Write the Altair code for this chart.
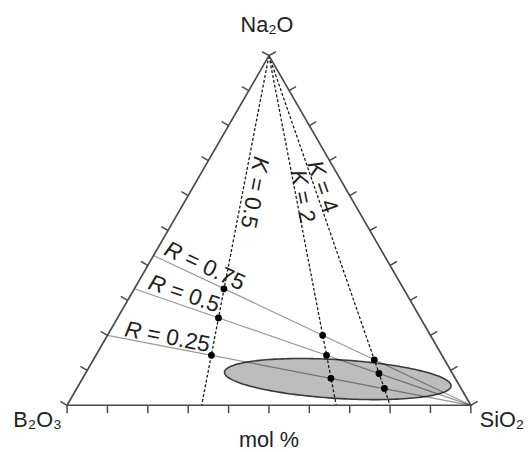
import math
import numpy as np
import pandas as pd
import altair as alt

# ---------------- data ----------------
corner_labels = ["Na₂O", "B₂O₃", "SiO₂"]
axis_title = "mol %"

K_values = [0.5, 2, 4]          # K = SiO2 / B2O3
R_values = [0.25, 0.5, 0.75]    # R = Na2O / B2O3

# compositions of the marked glasses (mol %)
pt_na2o = [14.3, 25.0, 33.3, 7.7, 14.3, 20.0, 4.8, 9.1, 13.0]
pt_b2o3 = [57.1, 50.0, 44.4, 30.8, 28.6, 26.7, 19.0, 18.2, 17.4]
pt_sio2 = [28.6, 25.0, 22.2, 61.5, 57.1, 53.3, 76.2, 72.7, 69.6]

tick_fracs = [0.0, 0.1, 0.2, 0.3, 0.4, 0.5, 0.6, 0.7, 0.8, 0.9, 1.0]

# glass-forming region (ellipse): centre composition (mol %), semi-axes (mol % of edge), tilt (deg)
ell_center_na2o = 7.5
ell_center_sio2 = 63.3
ell_semi_major = 28.1
ell_semi_minor = 4.8
ell_tilt = -3.5

# label placement along each guide line (annotation layout)
k_label_pos = [0.615, 0.594, 0.618]   # Na2O fraction of label centre on each K line
k_label_off = [11.5, 6.3, 7.5]        # px, perpendicular
r_label_pos = [0.160, 0.137, 0.145]   # fraction along each R line from the B2O3-Na2O edge
r_label_off = [9.6, 11.5, 12.2]

# ---------------- geometry ----------------
S3 = math.sqrt(3) / 2
W = 410
H = 355
PXU = W  # pixels per data unit
FS = 23


def tern(na, si):
    """ternary fractions -> cartesian data coordinates"""
    return si + na / 2.0, na * S3


# triangle outline
tri = []
for i, (na, si) in enumerate([(0, 0), (0, 1), (1, 0), (0, 0)]):
    x, y = tern(na, si)
    tri.append({"x": x, "y": y, "o": i})
tri = pd.DataFrame(tri)

# ticks, perpendicular to each edge, pointing outward
L = 8.0 / PXU
ticks = []
for f in tick_fracs:
    x, y = tern(0, f)  # bottom edge
    ticks.append({"x": x, "y": y, "x2": x, "y2": y - L})
    x, y = tern(f, 0)  # left edge
    ticks.append({"x": x, "y": y, "x2": x - L * S3, "y2": y + L * 0.5})
    x, y = tern(f, 1 - f)  # right edge
    ticks.append({"x": x, "y": y, "x2": x + L * S3, "y2": y + L * 0.5})
ticks = pd.DataFrame(ticks)

# K lines: apex to base
apx, apy = tern(1, 0)
klines = []
for k in K_values:
    bx, by = tern(0, k / (1 + k))
    klines.append({"x": apx, "y": apy, "x2": bx, "y2": by})
klines = pd.DataFrame(klines)

# R lines: B2O3-Na2O edge to SiO2 corner
sx, sy = tern(0, 1)
rlines = []
for r in R_values:
    lx, ly = tern(r / (1 + r), 0)
    rlines.append({"x": lx, "y": ly, "x2": sx, "y2": sy})
rlines = pd.DataFrame(rlines)

# points
pts = pd.DataFrame({"na": pt_na2o, "b": pt_b2o3, "si": pt_sio2})
pts["x"] = pts["si"] / 100 + pts["na"] / 200
pts["y"] = pts["na"] / 100 * S3

# ellipse
ecx, ecy = tern(ell_center_na2o / 100, ell_center_sio2 / 100)
A = ell_semi_major / 100
B = ell_semi_minor / 100
ph = math.radians(ell_tilt)
t = np.linspace(0, 2 * np.pi, 181)
ell_line = pd.DataFrame({
    "x": ecx + A * np.cos(t) * math.cos(ph) - B * np.sin(t) * math.sin(ph),
    "y": ecy + A * np.cos(t) * math.sin(ph) + B * np.sin(t) * math.cos(ph),
    "o": np.arange(len(t)),
})
xe = math.sqrt(A ** 2 * math.cos(ph) ** 2 + B ** 2 * math.sin(ph) ** 2)
u = np.linspace(np.pi, 0, 200)
X = xe * np.cos(u)
a2 = math.sin(ph) ** 2 / A ** 2 + math.cos(ph) ** 2 / B ** 2
b1 = 2 * X * math.sin(ph) * math.cos(ph) * (1 / A ** 2 - 1 / B ** 2)
c0 = X ** 2 * (math.cos(ph) ** 2 / A ** 2 + math.sin(ph) ** 2 / B ** 2) - 1
disc = np.clip(b1 ** 2 - 4 * a2 * c0, 0, None)
ell_fill = pd.DataFrame({
    "x": ecx + X,
    "ytop": ecy + (-b1 + np.sqrt(disc)) / (2 * a2),
    "ybot": ecy + (-b1 - np.sqrt(disc)) / (2 * a2),
})

# labels on the K and R lines
def text_w(s):
    w = {"K": 667, "R": 722, " ": 278, "=": 584, ".": 278}
    return sum(w.get(c, 556) for c in s) * FS / 1000.0


klab = []
for k, pos, off in zip(K_values, k_label_pos, k_label_off):
    px, py = tern(pos, (1 - pos) * k / (1 + k))
    bx, by = tern(0, k / (1 + k))
    dx, dy = bx - apx, by - apy
    th = math.degrees(math.atan2(-dy, dx))
    r = math.radians(th)
    cx = px + off / PXU * math.sin(r)
    cy = py + off / PXU * math.cos(r)
    rest = "= " + ("%g" % k)
    total = text_w("K = " + ("%g" % k))
    stx = cx - total / 2 / PXU * math.cos(r)
    sty = cy + total / 2 / PXU * math.sin(r)
    klab.append({"x": stx, "y": sty, "ang": th, "sym": "K", "rest": rest})
klab = pd.DataFrame(klab)

rlab = []
for rv, pos, off in zip(R_values, r_label_pos, r_label_off):
    lx, ly = tern(rv / (1 + rv), 0)
    dx, dy = sx - lx, sy - ly
    px, py = lx + pos * dx, ly + pos * dy
    th = math.degrees(math.atan2(-dy, dx))
    r = math.radians(th)
    cx = px + off / PXU * math.sin(r)
    cy = py + off / PXU * math.cos(r)
    rest = "= " + ("%g" % rv)
    total = text_w("R = " + ("%g" % rv))
    stx = cx - total / 2 / PXU * math.cos(r)
    sty = cy + total / 2 / PXU * math.sin(r)
    rlab.append({"x": stx, "y": sty, "ang": th, "sym": "R", "rest": rest})
rlab = pd.DataFrame(rlab)

# ---------------- chart ----------------
xs = alt.Scale(domain=[0, 1], nice=False, zero=False)
ys = alt.Scale(domain=[0, S3], nice=False, zero=False)


def XE(f="x"):
    return alt.X(f, type="quantitative", scale=xs, axis=None)


def YE(f="y"):
    return alt.Y(f, type="quantitative", scale=ys, axis=None)


EDGE = "#4a4a4a"
FONT = "Liberation Sans"

fill_layer = alt.Chart(ell_fill).mark_area(color="#bdbdbd", opacity=1).encode(
    x=XE(), y=YE("ytop"), y2="ybot")
outline_layer = alt.Chart(ell_line).mark_line(color="#3a3a3a", strokeWidth=1.6).encode(
    x=XE(), y=YE(), order="o:Q")
r_layer = alt.Chart(rlines).mark_rule(color="#000000", strokeOpacity=0.4, strokeWidth=1.3).encode(
    x=XE(), y=YE(), x2="x2", y2="y2")
k_layer = alt.Chart(klines).mark_rule(color="#1a1a1a", strokeWidth=1.3, strokeDash=[3, 2]).encode(
    x=XE(), y=YE(), x2="x2", y2="y2")
tri_layer = alt.Chart(tri).mark_line(color=EDGE, strokeWidth=1.7).encode(
    x=XE(), y=YE(), order="o:Q")
tick_layer = alt.Chart(ticks).mark_rule(color=EDGE, strokeWidth=1.5).encode(
    x=XE(), y=YE(), x2="x2", y2="y2")
pt_layer = alt.Chart(pts).mark_circle(color="#000000", size=48, opacity=1).encode(
    x=XE(), y=YE())


def lab_layers(df, sym_w):
    base = alt.Chart(df)
    a = base.mark_text(font=FONT, fontSize=FS, fontStyle="italic", align="left",
                       baseline="middle", color="#222222").encode(
        x=XE(), y=YE(), text="sym:N", angle=alt.Angle("ang:Q", scale=None))
    b = base.mark_text(font=FONT, fontSize=FS, align="left", baseline="middle",
                       color="#222222", dx=sym_w).encode(
        x=XE(), y=YE(), text="rest:N", angle=alt.Angle("ang:Q", scale=None))
    return [a, b]


klayers = lab_layers(klab, text_w("K "))
rlayers = lab_layers(rlab, text_w("R "))

cx0, cy0 = tern(1, 0)
cx1, cy1 = tern(0, 0)
cx2, cy2 = tern(0, 1)
t_na = alt.Chart(pd.DataFrame({"x": [cx0], "y": [cy0], "t": [corner_labels[0]]})).mark_text(
    font=FONT, fontSize=22, align="center", baseline="alphabetic", dy=-24, dx=-2,
    color="#222222").encode(x=XE(), y=YE(), text="t:N")
t_b = alt.Chart(pd.DataFrame({"x": [cx1], "y": [cy1], "t": [corner_labels[1]]})).mark_text(
    font=FONT, fontSize=22, align="center", baseline="alphabetic", dy=22, dx=-30,
    color="#222222").encode(x=XE(), y=YE(), text="t:N")
t_si = alt.Chart(pd.DataFrame({"x": [cx2], "y": [cy2], "t": [corner_labels[2]]})).mark_text(
    font=FONT, fontSize=22, align="left", baseline="alphabetic", dy=22, dx=9,
    color="#222222").encode(x=XE(), y=YE(), text="t:N")
t_mol = alt.Chart(pd.DataFrame({"x": [0.5], "y": [0.0], "t": [axis_title]})).mark_text(
    font=FONT, fontSize=22, align="center", baseline="alphabetic", dy=42,
    color="#222222").encode(x=XE(), y=YE(), text="t:N")

chart = alt.layer(
    fill_layer, outline_layer, r_layer, k_layer, tri_layer, tick_layer, pt_layer,
    *klayers, *rlayers, t_na, t_b, t_si, t_mol
).properties(
    width=W, height=H,
    padding={"left": 60, "top": 45, "right": 54, "bottom": 44},
    autosize=alt.AutoSizeParams(type="none"),
    background="white",
).configure_view(stroke=None)

chart.save("out.html", embed_options={"renderer": "svg", "actions": False})
